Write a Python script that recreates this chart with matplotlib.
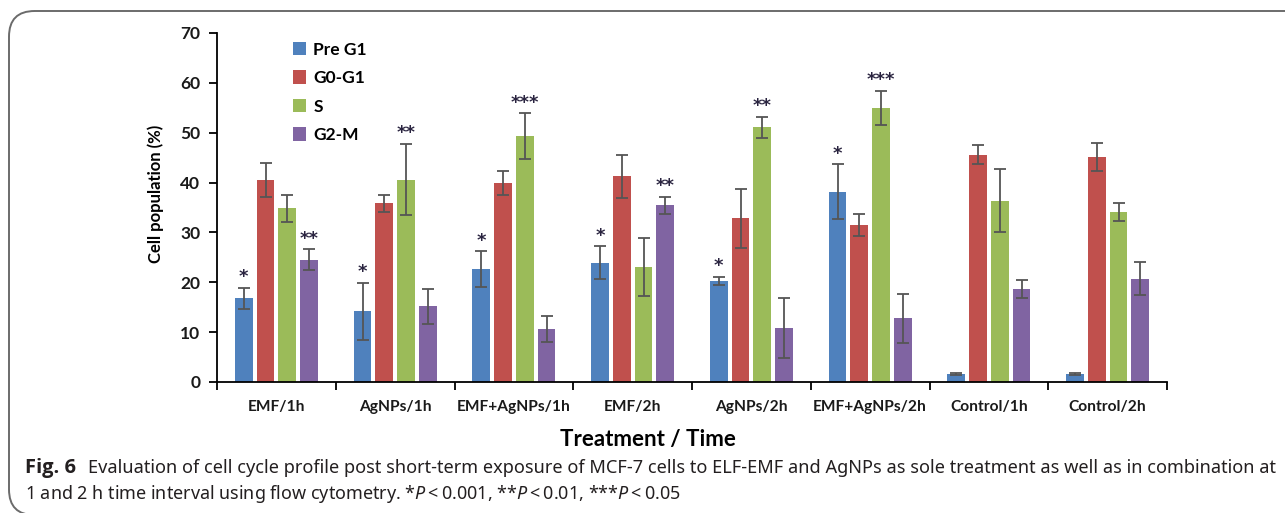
import matplotlib
matplotlib.use("Agg")
import matplotlib.pyplot as plt
from matplotlib.patches import FancyBboxPatch
import numpy as np

plt.rcParams['mathtext.fontset'] = 'custom'
plt.rcParams['mathtext.it'] = 'Noto Sans:italic'
plt.rcParams['mathtext.rm'] = 'Noto Sans'

# data
groups = ['EMF/1h', 'AgNPs/1h', 'EMF+AgNPs/1h', 'EMF/2h', 'AgNPs/2h',
          'EMF+AgNPs/2h', 'Control/1h', 'Control/2h']
phases = ['Pre G1', 'G0-G1', 'S', 'G2-M']
pre_g1 = [16.8, 14.2, 22.6, 23.9, 20.3, 38.2, 1.6, 1.6]
pre_g1_err = [2.1, 5.7, 3.6, 3.3, 0.8, 5.5, 0.2, 0.2]
g0_g1 = [40.6, 35.8, 40.0, 41.3, 32.8, 31.5, 45.6, 45.1]
g0_g1_err = [3.4, 1.8, 2.4, 4.3, 6.0, 2.2, 1.9, 2.8]
s_phase = [34.8, 40.6, 49.3, 23.1, 51.1, 55.0, 36.4, 34.1]
s_phase_err = [2.8, 7.2, 4.6, 5.8, 2.1, 3.4, 6.3, 1.8]
g2_m = [24.5, 15.2, 10.6, 35.4, 10.9, 12.8, 18.7, 20.7]
g2_m_err = [2.1, 3.5, 2.6, 1.8, 6.0, 4.9, 1.8, 3.3]
# significance marks: (group, phase index, text)
stars = [(0, 0, '*'), (0, 3, '**'), (1, 0, '*'), (1, 2, '**'),
         (2, 0, '*'), (2, 2, '***'), (3, 0, '*'), (3, 3, '**'),
         (4, 0, '*'), (4, 2, '**'), (5, 0, '*'), (5, 2, '***')]

colors = ['#4F81BD', '#C0504D', '#9BBB59', '#8064A2']
values = [pre_g1, g0_g1, s_phase, g2_m]
errors = [pre_g1_err, g0_g1_err, s_phase_err, g2_m_err]

fig = plt.figure(figsize=(12.85, 5.13), dpi=100)
ax = fig.add_axes([0.1689, 0.2554, 0.7393, 0.6803])

x = np.arange(len(groups))
pitch = 0.183
width = 0.149
for k in range(4):
    pos = x + (k - 1.5) * pitch
    ax.bar(pos, values[k], width, color=colors[k], label=phases[k],
           yerr=errors[k], error_kw=dict(ecolor='#555555', elinewidth=1.3,
                                         capsize=4, capthick=1.3))

for g, k, txt in stars:
    top = values[k][g] + errors[k][g]
    ax.text(g + (k - 1.5) * pitch, top + 0.3, txt, ha='center', va='bottom',
            fontsize=13, fontweight='bold', color='#2a2440',
            family='DejaVu Sans')

ax.set_xlim(-0.5, len(groups) - 0.5)
ax.set_ylim(0, 70)
ax.set_yticks(np.arange(0, 71, 10))
ax.set_xticks(np.arange(-0.5, len(groups), 1))
ax.set_xticklabels([])
ax.set_xticks(x, minor=True)
ax.set_xticklabels(groups, minor=True)
ax.tick_params(axis='x', which='minor', length=0, pad=13, labelsize=11.2)
ax.tick_params(axis='x', which='major', length=6, width=1.3, direction='out')
ax.tick_params(axis='y', length=6, width=1.3, direction='out', labelsize=12.5, pad=6)
for lab in ax.get_xticklabels(minor=True) + ax.get_yticklabels():
    lab.set_fontweight('bold')
    lab.set_family('Lato')
    lab.set_color('#1a1a1a')

for side in ['top', 'right']:
    ax.spines[side].set_visible(False)
for side in ['left', 'bottom']:
    ax.spines[side].set_linewidth(1.3)

ax.set_ylabel('Cell population (%)', fontsize=12, fontweight='bold',
              family='Lato')
ax.yaxis.set_label_coords(-0.056, 0.54)
ax.set_xlabel('Treatment / Time', fontsize=16, fontweight='bold',
              family='Lato')
ax.xaxis.set_label_coords(0.454, -0.135)

leg = ax.legend(loc='upper left', bbox_to_anchor=(0.063, 1.02), frameon=False,
                prop=dict(family='Lato', weight='bold', size=12.5),
                handlelength=0.8, handleheight=0.8, handletextpad=0.4,
                labelspacing=0.72)

# caption
fig.text(25 / 1285, 0.077, 'Fig. 6', fontsize=14.5, fontweight='bold',
         family='Open Sans', color='#231f20')
fig.text(88 / 1285, 0.077,
         'Evaluation of cell cycle profile post short-term exposure of MCF-7 cells '
         'to ELF-EMF and AgNPs as sole treatment as well as in combination at',
         fontsize=13.1, family='Noto Sans', color='#231f20')
fig.text(25 / 1285, 0.028,
         '1 and 2 h time interval using flow cytometry. '
         '*$P$\u2009<\u20090.001, **$P$\u2009<\u20090.01, ***$P$\u2009<\u20090.05',
         fontsize=12.95, family='Noto Sans', color='#231f20')

frame = FancyBboxPatch((9 / 1285, -0.004), 1.2, (502 / 513) + 0.004,
                       boxstyle='round,pad=0,rounding_size=0.02',
                       transform=fig.transFigure, fill=False,
                       edgecolor='#6b6b6b', linewidth=1.4, mutation_aspect=2.5)
fig.patches.append(frame)

fig.savefig('out.png', dpi=100)
